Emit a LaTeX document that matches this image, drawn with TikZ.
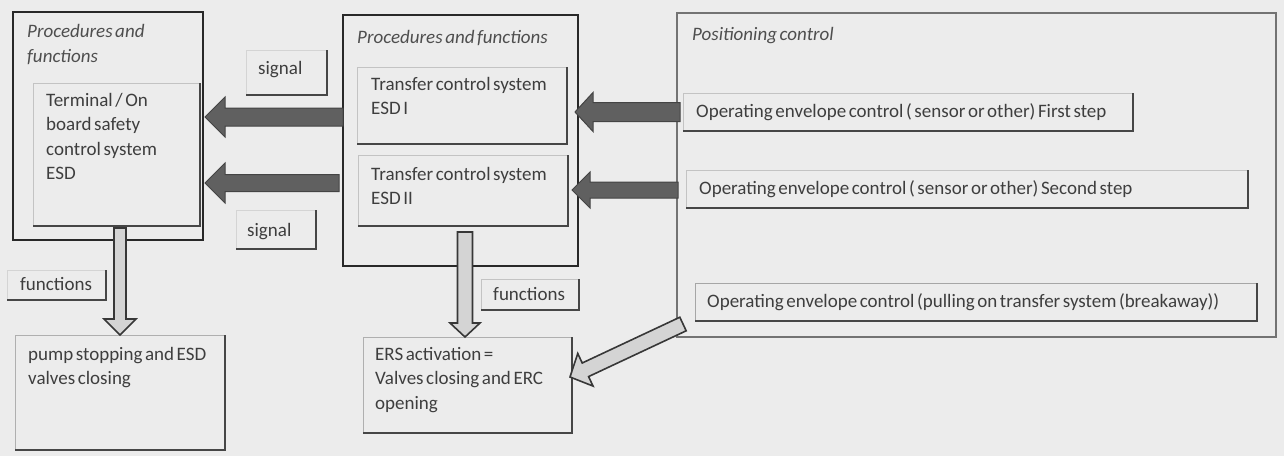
\documentclass[tikz,border=0pt]{standalone}
\usepackage{fontspec}
\setmainfont{Carlito}[WordSpace=0.6]
\usetikzlibrary{calc}
\definecolor{bg}{RGB}{236,236,236}
\definecolor{boxdark}{RGB}{40,40,40}
\definecolor{posgray}{RGB}{115,115,115}
\definecolor{lightedge}{RGB}{195,195,195}
\definecolor{darkedge}{RGB}{70,70,70}
\definecolor{txtcol}{RGB}{62,62,62}
\definecolor{titcol}{RGB}{78,78,78}
\definecolor{darrfill}{RGB}{96,96,96}
\definecolor{darrdraw}{RGB}{68,68,68}
\definecolor{larrfill}{RGB}{212,212,212}
\definecolor{larrdraw}{RGB}{55,55,55}
\newcommand\blockarr[6]{%
  \coordinate (hb) at ($(#2)!#5!(#1)$);
  \filldraw[#6] ($(#1)!#3!90:(#2)$) -- ($(hb)!#3!90:(#2)$) -- ($(hb)!#4!90:(#2)$) -- (#2)
    -- ($(hb)!#4!-90:(#2)$) -- ($(hb)!#3!-90:(#2)$) -- ($(#1)!#3!-90:(#2)$) -- cycle;}
\newcommand\shedge[1]{\draw[darkedge, line width=1.5pt] (#1.north east) -- (#1.south east) -- (#1.south west);}
\begin{document}
\begin{tikzpicture}[x=1pt,y=-1pt,
  boxbase/.style={rectangle, inner sep=0pt, outer sep=0pt, anchor=north west},
  thickbox/.style={boxbase, draw=boxdark, line width=2.6pt},
  posbox/.style={boxbase, draw=posgray, line width=1.6pt},
  shbox/.style={boxbase, draw=lightedge, line width=0.8pt},
  txt/.style={inner sep=0pt, anchor=base west, align=left, text=txtcol,
    font=\fontsize{19pt}{24.5pt}\selectfont},
  tit/.style={txt, text=titcol, font=\fontsize{19pt}{25pt}\selectfont\itshape},
  darkarrow/.style={fill=darrfill, draw=darrdraw, line width=1pt, line join=miter},
  lightarrow/.style={fill=larrfill, draw=larrdraw, line width=1.6pt, line join=miter}]
\fill[bg] (0,0) rectangle (1284,456);
\useasboundingbox (0,0) rectangle (1284,456);

% outer boxes
\node[thickbox, minimum width=190pt, minimum height=228pt] (lbox) at (13,12) {};
\node[thickbox, minimum width=235pt, minimum height=251pt] (mbox) at (343,15) {};
\node[posbox, minimum width=599pt, minimum height=324pt] (pbox) at (677,13) {};

% inner boxes
\node[shbox, minimum width=167pt, minimum height=143pt] (term) at (33,83) {};
\shedge{term}
\node[shbox, minimum width=210pt, minimum height=77pt] (tcs1) at (357,67) {};
\shedge{tcs1}
\node[shbox, minimum width=210pt, minimum height=71pt] (tcs2) at (358,155) {};
\shedge{tcs2}
\node[shbox, minimum width=450pt, minimum height=38pt] (envA) at (683,93) {};
\shedge{envA}
\node[shbox, minimum width=562pt, minimum height=38pt] (envB) at (686,170) {};
\shedge{envB}
\node[shbox, draw=lightedge!85!black, minimum width=562pt, minimum height=38pt] (envC) at (695,283) {};
\shedge{envC}

% label boxes
\node[shbox, draw=bg!90!black, minimum width=81pt, minimum height=45pt] (sig1) at (246,50) {};
\shedge{sig1}
\node[shbox, draw=bg!90!black, minimum width=80pt, minimum height=39pt] (sig2) at (236,210) {};
\shedge{sig2}
\node[shbox, draw=bg!90!black, minimum width=99pt, minimum height=30pt] (fun1) at (7,270) {};
\shedge{fun1}
\node[shbox, minimum width=98pt, minimum height=31pt] (fun2) at (481,279) {};
\shedge{fun2}

% result boxes
\node[shbox, draw=lightedge!90!black, minimum width=210pt, minimum height=115pt] (pump) at (15,335) {};
\shedge{pump}
\node[shbox, draw=lightedge!90!black, minimum width=209pt, minimum height=96pt] (ers) at (363,337) {};
\shedge{ers}

% arrows
\coordinate (a1s) at (mbox.west |- 0,117);
\coordinate (a1e) at ($(lbox.east |- 0,117)+(2,0)$);
\blockarr{a1s}{a1e}{9pt}{20pt}{20pt}{darkarrow}
\coordinate (a2s) at ($(mbox.west |- 0,183)+(-4,0)$);
\coordinate (a2e) at ($(lbox.east |- 0,183)+(2,0)$);
\blockarr{a2s}{a2e}{8.5pt}{20pt}{20pt}{darkarrow}
\coordinate (a3s) at ($(pbox.west |- 0,112)+(3,0)$);
\coordinate (a3e) at ($(mbox.east |- 0,112)+(-3,0)$);
\blockarr{a3s}{a3e}{9.5pt}{19.5pt}{18pt}{darkarrow}
\coordinate (a4s) at ($(pbox.west |- 0,190)+(1,0)$);
\coordinate (a4e) at ($(mbox.east |- 0,190)+(-6,0)$);
\blockarr{a4s}{a4e}{8pt}{18pt}{18pt}{darkarrow}

\coordinate (d1s) at ($(lbox.south west)+(107,-12)$);
\coordinate (d1e) at ($(pump.north west)+(105,0)$);
\blockarr{d1s}{d1e}{6pt}{16pt}{16pt}{lightarrow}
\coordinate (d2s) at ($(mbox.south west)+(122,-34)$);
\coordinate (d2e) at ($(ers.north west)+(102,0)$);
\blockarr{d2s}{d2e}{7.5pt}{15pt}{14pt}{lightarrow}
\coordinate (d3s) at ($(pbox.south west)+(6,-13)$);
\coordinate (d3e) at ($(ers.east)+(-2,-8)$);
\blockarr{d3s}{d3e}{7.5pt}{18pt}{17pt}{lightarrow}

% texts (base anchor = baseline of the last line)
\node[tit] (lboxT) at (27,62) {Procedures and\\functions};
\node[txt] (termT) at (46,179.5) {Terminal / On\\board safety\\control system\\ESD};
\node[tit] (mboxT) at (357,43) {Procedures and functions};
\node[txt] (tcs1T) at (371,114.5) {Transfer control system\\ESD I};
\node[txt] (tcs2T) at (371,204.5) {Transfer control system\\ESD II};
\node[tit] (pboxT) at (692,40) {Positioning control};
\node[txt] (envAT) at (696,117) {Operating envelope control ( sensor or other) First step};
\node[txt] (envBT) at (699,194) {Operating envelope control ( sensor or other) Second step};
\node[txt] (envCT) at (707,307) {Operating envelope control (pulling on transfer system (breakaway))};
\node[txt] (sig1T) at (258,74) {signal};
\node[txt] (sig2T) at (247,236) {signal};
\node[txt] (fun1T) at (20,290) {functions};
\node[txt] (fun2T) at (493,300) {functions};
\node[txt] (pumpT) at (28,384.5) {pump stopping and ESD\\valves closing};
\node[txt] (ersT) at (375,409) {ERS activation =\\Valves closing and ERC\\opening};
\end{tikzpicture}
\end{document}
